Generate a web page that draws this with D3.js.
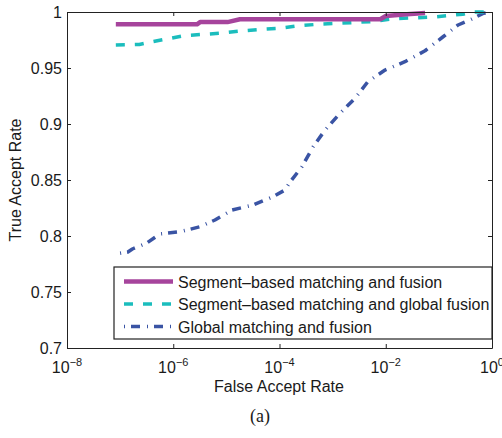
<!DOCTYPE html>
<html><head><meta charset="utf-8">
<script src="https://cdn.jsdelivr.net/npm/d3@7"></script>
<style>body{margin:0;background:#fff}svg{display:block}</style>
</head><body>
<script>
// ---- data ----
const seriesNames = ["Segment\u2013based matching and fusion","Segment\u2013based matching and global fusion","Global matching and fusion"];
const segFusionFAR = [8.3e-8, 2.8e-6, 3.2e-6, 1.05e-5, 1.8e-5, 7.9e-3, 1.0e-2, 0.025, 0.055];
const segFusionTAR = [0.989, 0.989, 0.991, 0.991, 0.9935, 0.9935, 0.9964, 0.998, 0.999];
const segGlobalFAR = [8.3e-8, 2.3e-7, 3.6e-7, 8.7e-7, 1.66e-6, 3.5e-6, 7.6e-6, 1.8e-5, 4.3e-5, 1.0e-4, 2.1e-4, 5.1e-4, 1.4e-3, 5.8e-3, 0.0138, 0.078, 0.28, 0.42, 1];
const segGlobalTAR = [0.9705, 0.971, 0.973, 0.9765, 0.979, 0.980, 0.981, 0.983, 0.9845, 0.9855, 0.9875, 0.989, 0.990, 0.9915, 0.994, 0.9955, 0.998, 1.0, 1.0];
const globalFAR = [1.0e-7, 1.4e-7, 1.7e-7, 3.2e-7, 5.6e-7, 1.34e-6, 3.2e-6, 6.1e-6, 1.28e-5, 3.2e-5, 7.6e-5, 1.27e-4, 1.58e-4, 2.65e-4, 4.3e-4, 7.2e-4, 1.38e-3, 2.64e-3, 4.6e-3, 9.7e-3, 0.023, 0.055, 0.12, 0.23, 0.385, 0.68, 1];
const globalTAR = [0.7846, 0.7857, 0.7884, 0.7938, 0.8018, 0.8038, 0.8083, 0.8143, 0.8232, 0.8277, 0.8351, 0.8411, 0.8482, 0.8619, 0.8797, 0.8946, 0.9096, 0.9229, 0.9378, 0.9482, 0.9556, 0.9654, 0.9779, 0.9884, 0.9929, 0.9988, 1.0];
const xTickExps = [-8, -6, -4, -2, 0];
const yTicks = [0.7, 0.75, 0.8, 0.85, 0.9, 0.95, 1];

// ---- layout ----
const W = 502, H = 438;
const L = 67, R = 492, T = 12, B = 348;
const FS = 16;
const svg = d3.select("body").append("svg").attr("width", W).attr("height", H)
  .style("font-family", "'Liberation Sans', Arial, sans-serif");

const x = d3.scaleLog().domain([1e-8, 1]).range([L, R]);
const y = d3.scaleLinear().domain([0.7, 1]).range([B, T]);

svg.append("defs").append("clipPath").attr("id", "clip")
  .append("rect").attr("x", L).attr("y", T - 3).attr("width", R - L + 1).attr("height", B - T + 3);

const series = [
  {name: seriesNames[0], fx: segFusionFAR, ty: segFusionTAR, color: "#a6449c", width: 4.5, dash: null},
  {name: seriesNames[1], fx: segGlobalFAR, ty: segGlobalTAR, color: "#1bbdbd", width: 3.5, dash: "9,10"},
  {name: seriesNames[2], fx: globalFAR, ty: globalTAR, color: "#3a54a4", width: 3.5, dash: "1,6,9,7"}
];

const line = d3.line().x(d => x(d[0])).y(d => y(d[1]));
const g = svg.append("g").attr("clip-path", "url(#clip)");
series.slice().reverse().forEach(s => {
  const pts = s.fx.map((v, i) => [v, s.ty[i]]);
  g.append("path").attr("d", line(pts)).attr("fill", "none")
    .attr("stroke", s.color).attr("stroke-width", s.width)
    .attr("stroke-dasharray", s.dash).attr("stroke-linejoin", "round");
});

// ---- axes ----
const tl = 4;
const xTicks = xTickExps.map(e => Math.pow(10, e));
const axB = svg.append("g").attr("transform", `translate(0,${B})`)
  .call(d3.axisBottom(x).tickValues(xTicks).tickSizeInner(-tl).tickSizeOuter(0).tickFormat(""));
const axT = svg.append("g").attr("transform", `translate(0,${T})`)
  .call(d3.axisTop(x).tickValues(xTicks).tickSizeInner(-tl).tickSizeOuter(0).tickFormat(""));
const axL = svg.append("g").attr("transform", `translate(${L},0)`)
  .call(d3.axisLeft(y).tickValues(yTicks).tickSizeInner(-tl).tickSizeOuter(0).tickFormat(""));
const axR = svg.append("g").attr("transform", `translate(${R},0)`)
  .call(d3.axisRight(y).tickValues(yTicks).tickSizeInner(-tl).tickSizeOuter(0).tickFormat(""));
[axB, axT, axL, axR].forEach(a => {
  a.selectAll("path,line").attr("stroke", "#222").attr("stroke-width", 1);
});

// y tick labels
yTicks.forEach(v => {
  svg.append("text").attr("x", L - 5).attr("y", y(v) + 6).attr("text-anchor", "end")
    .attr("font-size", FS).attr("fill", "#1a1a1a").text(d3.format("")(v));
});
// x tick labels 10^e
xTickExps.forEach(e => {
  const t = svg.append("text").attr("x", x(Math.pow(10, e))).attr("y", B + 25)
    .attr("text-anchor", "middle").attr("font-size", FS).attr("fill", "#1a1a1a");
  t.append("tspan").text("10");
  t.append("tspan").attr("dy", -7).attr("font-size", 11).text(e === 0 ? "0" : "\u2212" + Math.abs(e));
});

// axis titles
svg.append("text").attr("x", (L + R) / 2 - 0.5).attr("y", B + 44).attr("text-anchor", "middle")
  .attr("font-size", FS).attr("fill", "#1a1a1a").text("False Accept Rate");
svg.append("text").attr("transform", `translate(21,${(T + B) / 2}) rotate(-90)`)
  .attr("text-anchor", "middle").attr("font-size", FS).attr("fill", "#1a1a1a").text("True Accept Rate");
svg.append("text").attr("x", 260).attr("y", 422).attr("text-anchor", "middle")
  .attr("font-family", "'Liberation Serif', 'DejaVu Serif', serif").attr("font-size", 18)
  .attr("fill", "#1a1a1a").text("(a)");

// ---- legend ----
const lg = svg.append("g");
lg.append("rect").attr("x", 114).attr("y", 267).attr("width", R - 114).attr("height", 72)
  .attr("fill", "#fff").attr("stroke", "#222").attr("stroke-width", 1.2);
const rowsY = [281.5, 304, 326.5];
series.forEach((s, i) => {
  lg.append("line").attr("x1", 124).attr("x2", 173).attr("y1", rowsY[i]).attr("y2", rowsY[i])
    .attr("stroke", s.color).attr("stroke-width", s.width).attr("stroke-dasharray", s.dash);
  lg.append("text").attr("x", 178).attr("y", rowsY[i] + 6).attr("font-size", FS)
    .attr("fill", "#1a1a1a").text(s.name);
});
</script>
</body></html>
